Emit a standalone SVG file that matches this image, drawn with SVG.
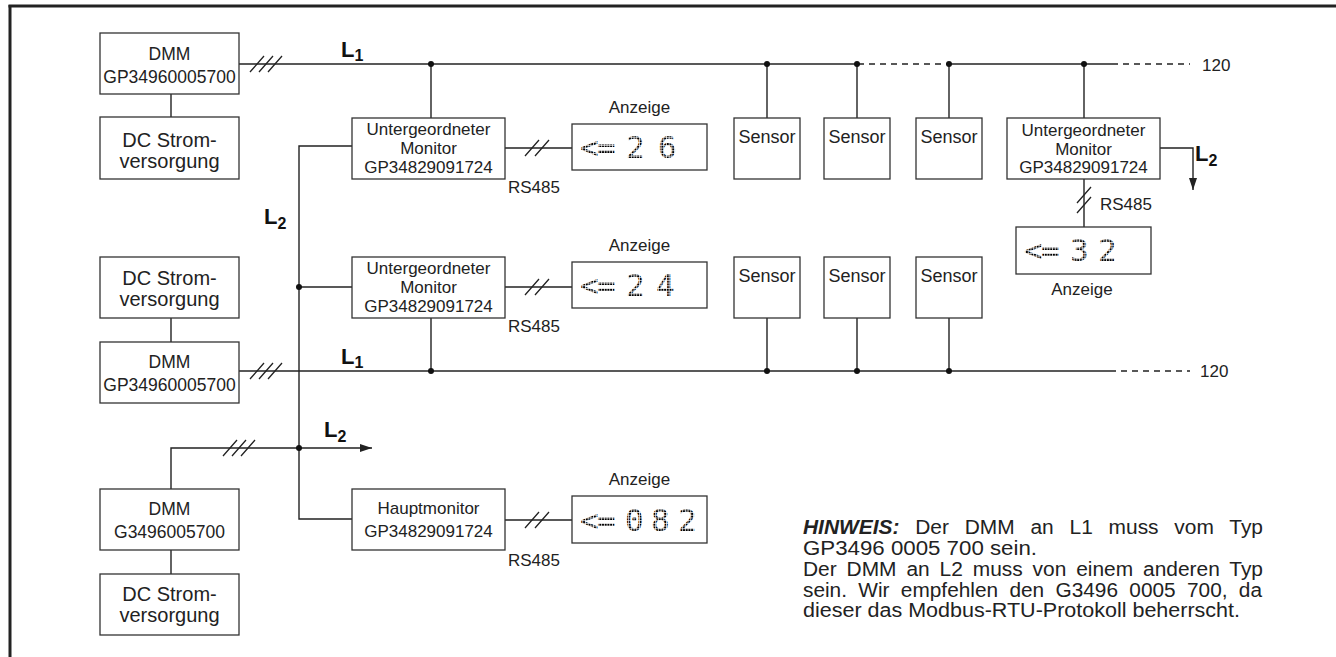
<svg xmlns="http://www.w3.org/2000/svg" width="1336" height="657" viewBox="0 0 1336 657">
<style>
.box{fill:#fff;stroke:#333;stroke-width:1.3}
.ln{fill:none;stroke:#222;stroke-width:1.4}
.dash{fill:none;stroke:#222;stroke-width:1.4;stroke-dasharray:6 5}
.sl{fill:none;stroke:#222;stroke-width:1.3}
.t{font-family:"Liberation Sans",Arial,sans-serif;fill:#222;text-anchor:middle}
.dmm{font-size:17.5px}
.dc{font-size:20px}
.mon{font-size:17px}
.sen{font-size:18px}
.lbl{font-size:17px}
.L{font-family:"Liberation Sans",Arial,sans-serif;font-weight:bold;fill:#111;font-size:22px}
.sub{font-size:16px}
.disp{font-family:"DejaVu Sans Mono",monospace;font-size:31px;fill:url(#dots)}
.note{font-family:"Liberation Sans",Arial,sans-serif;font-size:19.5px;fill:#222}
</style>
<defs>
<pattern id="dots" width="2.7" height="2.7" patternUnits="userSpaceOnUse"><rect width="2" height="2" fill="#000"/></pattern>
<marker id="arr" markerUnits="userSpaceOnUse" markerWidth="13" markerHeight="9" refX="12" refY="4" orient="auto"><path d="M0,0 L12,4 L0,8 z" fill="#222"/></marker>
</defs>
<rect width="1336" height="657" fill="#fff"/>
<g id="frame">
<line x1="8.5" y1="6" x2="1336" y2="6" stroke="#222" stroke-width="2.8"/>
<line x1="10" y1="5" x2="10" y2="657" stroke="#222" stroke-width="3"/>
</g>
<g id="connectors">
<line class="ln" x1="171" y1="94" x2="171" y2="117"/>
<line class="ln" x1="239" y1="64" x2="858" y2="64"/>
<line class="dash" x1="858" y1="64" x2="949" y2="64"/>
<line class="ln" x1="949" y1="64" x2="1112" y2="64"/>
<line class="dash" x1="1112" y1="64" x2="1190" y2="64"/>
<path class="sl" d="M250,72 L264,56 M259,72 L273,56 M268,72 L282,56"/>
<line class="ln" x1="431" y1="64" x2="431" y2="118"/>
<line class="ln" x1="767" y1="64" x2="767" y2="118"/>
<line class="ln" x1="857" y1="64" x2="857" y2="118"/>
<line class="ln" x1="949" y1="64" x2="949" y2="118"/>
<line class="ln" x1="1084" y1="64" x2="1084" y2="118"/>
<line class="ln" x1="505" y1="148" x2="572" y2="148"/>
<path class="sl" d="M525,156 L539,140 M535,156 L549,140"/>
<polyline class="ln" points="352,146 299,146 299,519 352,519"/>
<line class="ln" x1="299" y1="287" x2="352" y2="287"/>
<line class="ln" x1="505" y1="287" x2="572" y2="287"/>
<path class="sl" d="M525,295 L539,279 M535,295 L549,279"/>
<line class="ln" x1="171" y1="318" x2="171" y2="342"/>
<line class="ln" x1="239" y1="371" x2="1110" y2="371"/>
<line class="dash" x1="1110" y1="371" x2="1190" y2="371"/>
<path class="sl" d="M250,379 L264,363 M259,379 L273,363 M268,379 L282,363"/>
<line class="ln" x1="431" y1="318" x2="431" y2="371"/>
<line class="ln" x1="767" y1="318" x2="767" y2="371"/>
<line class="ln" x1="857" y1="318" x2="857" y2="371"/>
<line class="ln" x1="949" y1="318" x2="949" y2="371"/>
<polyline class="ln" points="171,489 171,448 372,448" marker-end="url(#arr)"/>
<path class="sl" d="M223,456 L237,440 M232,456 L246,440 M241,456 L255,440"/>
<line class="ln" x1="505" y1="520" x2="572" y2="520"/>
<path class="sl" d="M525,528 L539,512 M535,528 L549,512"/>
<line class="ln" x1="171" y1="550" x2="171" y2="574"/>
<polyline class="ln" points="1160,148 1193,148 1193,190" marker-end="url(#arr)"/>
<line class="ln" x1="1084" y1="179" x2="1084" y2="227"/>
<path class="sl" d="M1077,203 L1091,187 M1077,213 L1091,197"/>
<g fill="#111">
<circle cx="431" cy="64" r="3"/><circle cx="767" cy="64" r="3"/><circle cx="857" cy="64" r="3"/><circle cx="949" cy="64" r="3"/><circle cx="1084" cy="64" r="3"/>
<circle cx="299" cy="287" r="3"/><circle cx="299" cy="448" r="3"/>
<circle cx="431" cy="371" r="3"/><circle cx="767" cy="371" r="3"/><circle cx="857" cy="371" r="3"/><circle cx="949" cy="371" r="3"/>
</g>
</g>
<g id="labels">
<text class="L" x="341" y="57">L<tspan class="sub" dy="4">1</tspan></text>
<text class="L" x="341" y="364">L<tspan class="sub" dy="4">1</tspan></text>
<text class="L" x="264" y="224">L<tspan class="sub" dy="5">2</tspan></text>
<text class="L" x="324" y="437">L<tspan class="sub" dy="5">2</tspan></text>
<text class="L" x="1195" y="161">L<tspan class="sub" dy="5">2</tspan></text>
<text class="t lbl" x="1202" y="71" style="text-anchor:start">120</text>
<text class="t lbl" x="1200" y="377" style="text-anchor:start">120</text>
<text class="t lbl" x="508" y="193" style="text-anchor:start">RS485</text>
<text class="t lbl" x="508" y="332" style="text-anchor:start">RS485</text>
<text class="t lbl" x="508" y="566" style="text-anchor:start">RS485</text>
<text class="t lbl" x="1100" y="210" style="text-anchor:start">RS485</text>
</g>
<g id="dmm1"><rect class="box" x="100" y="33" width="139" height="61"/><text class="t dmm" x="169.5" y="60">DMM</text><text class="t dmm" x="169.5" y="83">GP34960005700</text></g>
<g id="dc1"><rect class="box" x="100" y="117" width="139" height="62"/><text class="t dc" x="169.5" y="147">DC Strom-</text><text class="t dc" x="169.5" y="168">versorgung</text></g>
<g id="dc2"><rect class="box" x="100" y="257" width="139" height="61"/><text class="t dc" x="169.5" y="285">DC Strom-</text><text class="t dc" x="169.5" y="306">versorgung</text></g>
<g id="dmm2"><rect class="box" x="100" y="342" width="139" height="61"/><text class="t dmm" x="169.5" y="368">DMM</text><text class="t dmm" x="169.5" y="391">GP34960005700</text></g>
<g id="dmm3"><rect class="box" x="100" y="489" width="139" height="61"/><text class="t dmm" x="169.5" y="515">DMM</text><text class="t dmm" x="169.5" y="538">G3496005700</text></g>
<g id="dc3"><rect class="box" x="100" y="574" width="139" height="61"/><text class="t dc" x="169.5" y="601">DC Strom-</text><text class="t dc" x="169.5" y="622">versorgung</text></g>
<g id="monitor1"><rect class="box" x="352" y="118" width="153" height="61"/><text class="t mon" x="428.5" y="135">Untergeordneter</text><text class="t mon" x="428.5" y="154">Monitor</text><text class="t mon" x="428.5" y="173">GP34829091724</text></g>
<g id="monitor2"><rect class="box" x="352" y="257" width="153" height="61"/><text class="t mon" x="428.5" y="274">Untergeordneter</text><text class="t mon" x="428.5" y="293">Monitor</text><text class="t mon" x="428.5" y="312">GP34829091724</text></g>
<g id="hauptmonitor"><rect class="box" x="352" y="489" width="153" height="61"/><text class="t mon" x="428.5" y="514">Hauptmonitor</text><text class="t mon" x="428.5" y="537">GP34829091724</text></g>
<g id="monitor3"><rect class="box" x="1007" y="118" width="153" height="61"/><text class="t mon" x="1083.5" y="136">Untergeordneter</text><text class="t mon" x="1083.5" y="155">Monitor</text><text class="t mon" x="1083.5" y="173">GP34829091724</text></g>
<g id="display1"><text class="t lbl" x="639.5" y="113">Anzeige</text><rect class="box" x="572" y="124" width="135" height="46"/><text class="disp" x="580 597 626 658" y="158">&lt;=26</text></g>
<g id="display2"><text class="t lbl" x="639.5" y="251">Anzeige</text><rect class="box" x="572" y="262" width="135" height="46"/><text class="disp" x="580 597 626 656" y="296">&lt;=24</text></g>
<g id="display3"><text class="t lbl" x="639.5" y="485">Anzeige</text><rect class="box" x="572" y="496" width="135" height="47"/><text class="disp" x="580 597 625 651 678" y="531">&lt;=082</text></g>
<g id="display4"><rect class="box" x="1016" y="227" width="135" height="47"/><text class="disp" x="1024 1041 1070 1098" y="261">&lt;=32</text><text class="t lbl" x="1082" y="295">Anzeige</text></g>
<g id="sensor1"><rect class="box" x="734" y="118" width="66" height="61"/><text class="t sen" x="767" y="143">Sensor</text></g>
<g id="sensor2"><rect class="box" x="824" y="118" width="66" height="61"/><text class="t sen" x="857" y="143">Sensor</text></g>
<g id="sensor3"><rect class="box" x="916" y="118" width="66" height="61"/><text class="t sen" x="949" y="143">Sensor</text></g>
<g id="sensor4"><rect class="box" x="734" y="257" width="66" height="61"/><text class="t sen" x="767" y="282">Sensor</text></g>
<g id="sensor5"><rect class="box" x="824" y="257" width="66" height="61"/><text class="t sen" x="857" y="282">Sensor</text></g>
<g id="sensor6"><rect class="box" x="916" y="257" width="66" height="61"/><text class="t sen" x="949" y="282">Sensor</text></g>
<g id="note">
<text class="note" x="803" y="534" word-spacing="9.3" textLength="460" lengthAdjust="spacingAndGlyphs"><tspan font-weight="bold" font-style="italic">HINWEIS:</tspan> Der DMM an L1 muss vom Typ</text>
<text class="note" x="803" y="555" textLength="234" lengthAdjust="spacingAndGlyphs">GP3496 0005 700 sein.</text>
<text class="note" x="803" y="576" word-spacing="3.8" textLength="460" lengthAdjust="spacingAndGlyphs">Der DMM an L2 muss von einem anderen Typ</text>
<text class="note" x="803" y="597" word-spacing="5.2" textLength="459" lengthAdjust="spacingAndGlyphs">sein. Wir empfehlen den G3496 0005 700, da</text>
<text class="note" x="803" y="617" textLength="437" lengthAdjust="spacingAndGlyphs">dieser das Modbus-RTU-Protokoll beherrscht.</text>
</g>
</svg>
